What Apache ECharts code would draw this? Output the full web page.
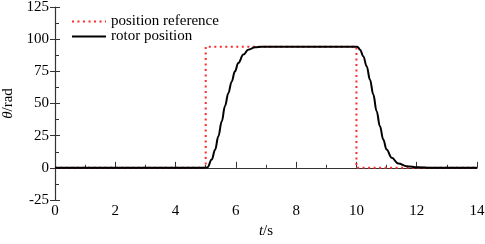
<!DOCTYPE html>
<html>
<head>
<meta charset="utf-8">
<script src="https://cdn.jsdelivr.net/npm/echarts@6/dist/echarts.min.js"></script>
<style>
  html, body { margin: 0; padding: 0; background: #fff; }
  #main { width: 485px; height: 244px; }
</style>
</head>
<body>
<div id="main"></div>
<script>
// reference step signal (t in s, theta in rad)
var refT = [0, 5, 5, 10, 10, 14];
var refV = [0, 0, 94.2, 94.2, 0, 0];

var rotorT = [0, 5.0, 5.06, 5.2, 5.31, 5.42, 5.53, 5.64, 5.75, 5.86, 5.97, 6.08, 6.25, 6.41, 6.64, 6.86, 7.2, 8.0, 10.0,
    10.04, 10.12, 10.23, 10.34, 10.45, 10.56, 10.67, 10.78, 10.89, 11.0, 11.17, 11.39, 11.67, 12.04, 12.5, 14];
var rotorV = [0, 0, 0.5, 6.4, 14, 24.5, 36, 48, 58, 67, 75, 81.5, 88, 91.8, 93.7, 94.1, 94.2, 94.2, 94.2,
    94, 91.8, 86.6, 78.9, 68.5, 56.9, 44, 32.3, 22, 14.2, 7.8, 3.3, 1.2, 0.4, 0.1, 0];

var xTicks = [0, 2, 4, 6, 8, 10, 12, 14];
var yTicks = [-25, 0, 25, 50, 75, 100, 125];

function pairs(xs, ys) {
    return xs.map(function (x, i) { return [x, ys[i]]; });
}

var font = 'Liberation Serif';
var axisColor = '#333';
var fs = 15;

var chart = echarts.init(document.getElementById('main'));
chart.setOption({
    animation: false,
    textStyle: { fontFamily: font },
    grid: {
        left: 55,
        right: 8,
        top: 7,
        bottom: 44,
        outerBoundsMode: 'none'
    },
    legend: {
        orient: 'vertical',
        left: 66,
        top: 9,
        itemWidth: 34,
        itemHeight: 10,
        itemGap: 0,
        itemStyle: { opacity: 0 },
        textStyle: { fontFamily: font, fontSize: fs, color: '#000' },
        data: ['position reference', 'rotor position']
    },
    xAxis: {
        type: 'value',
        min: xTicks[0],
        max: xTicks[xTicks.length - 1],
        interval: 2,
        name: '{i|t}/s',
        nameLocation: 'middle',
        nameGap: 23,
        nameTextStyle: {
            fontFamily: font,
            fontSize: fs,
            color: '#000',
            rich: { i: { fontStyle: 'italic', fontFamily: font, fontSize: fs, color: '#000' } }
        },
        splitLine: { show: false },
        axisLine: { lineStyle: { color: axisColor, width: 1.2 } },
        axisTick: { inside: true, length: 6, lineStyle: { color: axisColor } },
        minorTick: { show: true, splitNumber: 2, length: 3, lineStyle: { color: axisColor } },
        axisLabel: { fontFamily: font, fontSize: fs, color: '#000', margin: 4 }
    },
    yAxis: [{
        type: 'value',
        min: yTicks[0],
        max: yTicks[yTicks.length - 1],
        interval: 25,
        name: '{i|θ}/rad',
        nameLocation: 'middle',
        nameGap: 38,
        nameTextStyle: {
            fontFamily: font,
            fontSize: fs,
            color: '#000',
            rich: { i: { fontStyle: 'italic', fontFamily: font, fontSize: fs, color: '#000' } }
        },
        splitLine: { show: false },
        axisLine: { show: true, lineStyle: { color: axisColor, width: 1.2 } },
        axisTick: { show: true, inside: false, length: 5, lineStyle: { color: axisColor } },
        axisLabel: { fontFamily: font, fontSize: fs, color: '#000', margin: 6 }
    }, {
        // second copy of the left axis, only for the inner half of the ticks
        type: 'value',
        position: 'left',
        min: yTicks[0],
        max: yTicks[yTicks.length - 1],
        interval: 25,
        splitLine: { show: false },
        axisLine: { show: false },
        axisLabel: { show: false },
        axisTick: { show: true, inside: true, length: 5, lineStyle: { color: axisColor } },
        minorTick: { show: true, splitNumber: 2, length: 4, lineStyle: { color: axisColor } }
    }],
    series: [{
        name: 'position reference',
        type: 'line',
        data: pairs(refT, refV),
        showSymbol: false,
        symbol: 'none',
        lineStyle: { color: '#ff2b2b', width: 2, type: [2, 3.5] },
        itemStyle: { color: '#ff2b2b' },
        z: 2
    }, {
        name: 'rotor position',
        type: 'line',
        data: pairs(rotorT, rotorV),
        showSymbol: false,
        symbol: 'none',
        smooth: 0.4,
        smoothMonotone: 'x',
        lineStyle: { color: '#000', width: 2 },
        itemStyle: { color: '#000' },
        z: 3
    }]
});
</script>
</body>
</html>
